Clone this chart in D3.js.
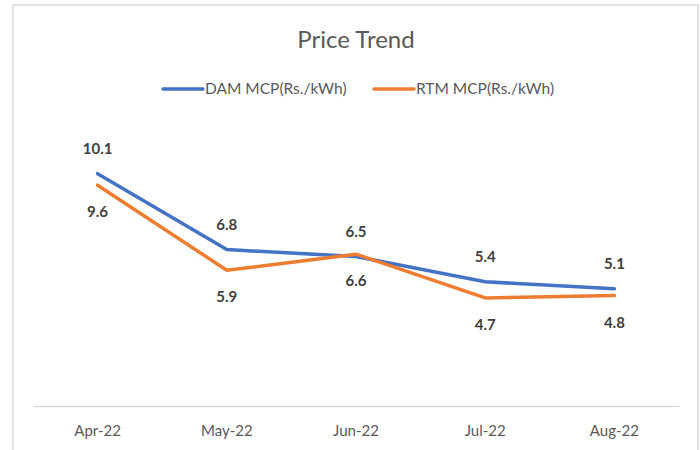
<!DOCTYPE html>
<html>
<head>
<meta charset="utf-8">
<title>Price Trend</title>
<script src="https://cdn.jsdelivr.net/npm/d3@7"></script>
<style>
  body { margin: 0; background: #fff; }
  text { font-family: Lato, "Open Sans", sans-serif; }
</style>
</head>
<body>
<div id="chart"></div>
<script>
// chart data
const months = ["Apr-22", "May-22", "Jun-22", "Jul-22", "Aug-22"];
const damValues = [10.1, 6.8, 6.5, 5.4, 5.1];
const rtmValues = [9.6, 5.9, 6.6, 4.7, 4.8];
const seriesNames = ["DAM MCP(Rs./kWh)", "RTM MCP(Rs./kWh)"];

const width = 700, height = 450;
const plot = { left: 33, right: 679, top: 130, bottom: 406 };

const svg = d3.select("#chart").append("svg")
  .attr("width", width)
  .attr("height", height);

// chart frame
svg.append("rect")
  .attr("x", 13).attr("y", 5)
  .attr("width", 685).attr("height", 460)
  .attr("fill", "#fff")
  .attr("stroke", "#d9d9d9")
  .attr("stroke-width", 1.5);

const x = d3.scaleBand().domain(months).range([plot.left, plot.right]);
const y = d3.scaleLinear().domain([0, 12]).range([plot.bottom, plot.top]);

// x axis
const xAxis = svg.append("g")
  .attr("transform", `translate(0,${plot.bottom})`)
  .call(d3.axisBottom(x).tickSize(0).tickPadding(19));
xAxis.select(".domain").attr("stroke", "#d9d9d9").attr("stroke-width", 1.5);
xAxis.selectAll("text")
  .attr("fill", "#595959")
  .style("font-size", "15px");

// title
svg.append("text")
  .attr("x", 356).attr("y", 48)
  .attr("text-anchor", "middle")
  .attr("fill", "#595959")
  .style("font-size", "24px")
  .text("Price Trend");

const series = [
  { name: seriesNames[0], values: damValues, color: "#4472c4", labelDy: -20 },
  { name: seriesNames[1], values: rtmValues, color: "#ed7d31", labelDy: 32 }
];

// legend
const legendX = [163, 374];
series.forEach((s, i) => {
  const g = svg.append("g").attr("transform", `translate(${legendX[i]},89)`);
  g.append("line")
    .attr("x1", 0).attr("x2", 40)
    .attr("stroke", s.color)
    .attr("stroke-width", 3.5)
    .attr("stroke-linecap", "round");
  g.append("text")
    .attr("x", 42).attr("y", 5)
    .attr("fill", "#595959")
    .style("font-size", "15.5px")
    .text(s.name);
});

const line = d3.line()
  .x((d, i) => x(months[i]) + x.bandwidth() / 2)
  .y(d => y(d));

series.forEach(s => {
  svg.append("path")
    .datum(s.values)
    .attr("d", line)
    .attr("fill", "none")
    .attr("stroke", s.color)
    .attr("stroke-width", 3.5)
    .attr("stroke-linejoin", "round")
    .attr("stroke-linecap", "round");
});

// data labels drawn after lines
series.forEach(s => {
  svg.selectAll(null)
    .data(s.values)
    .enter().append("text")
    .attr("x", (d, i) => x(months[i]) + x.bandwidth() / 2)
    .attr("y", d => y(d) + s.labelDy)
    .attr("text-anchor", "middle")
    .attr("fill", "#404040")
    .style("font-size", "15px")
    .style("font-weight", "bold")
    .text(d => d.toFixed(1));
});
</script>
</body>
</html>
